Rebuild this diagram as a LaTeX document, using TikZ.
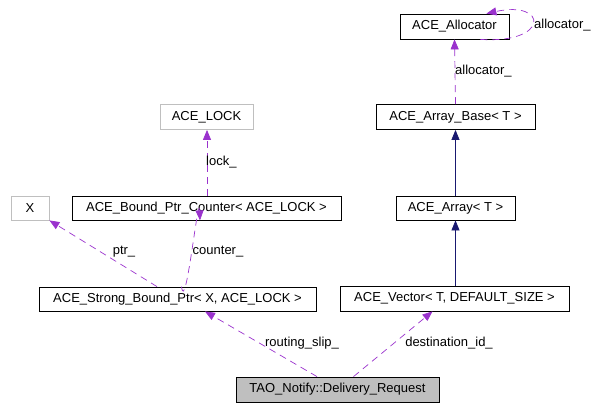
\documentclass[tikz,border=0pt]{standalone}
\usepackage{fontspec}
\setmainfont{Liberation Sans}
\usetikzlibrary{arrows.meta,calc}
\definecolor{dep}{HTML}{9A32CD}
\definecolor{inh}{HTML}{191970}
\definecolor{grayb}{HTML}{BFBFBF}
\begin{document}
\begin{tikzpicture}[x=1pt,y=-1pt,
  every node/.style={font=\fontsize{13}{15}\selectfont, inner sep=0pt},
  cls/.style={draw=black, line width=0.8pt, minimum width=#1, minimum height=25pt},
  ext/.style={draw=grayb, line width=0.8pt, minimum width=#1, minimum height=25pt},
  usel/.style={draw=dep, line width=0.7pt, dash pattern=on 7pt off 5pt, -{Triangle[length=10pt,width=8pt,fill=dep]}},
  inhl/.style={draw=inh, line width=0.8pt, -{Triangle[length=10pt,width=8pt,fill=inh]}},
  lbl/.style={font=\fontsize{13}{15}\selectfont}]
\useasboundingbox (0,0) rectangle (597,407);
\node[cls=109pt] (alloc) at (454.5,26.5) {ACE\_Allocator};
\node[cls=159pt] (base) at (455.5,117) {ACE\_Array\_Base< T >};
\node[ext=93pt] (lock) at (206.5,117) {ACE\_LOCK};
\node[ext=38pt, minimum height=24pt] (X) at (30,208) {X};
\node[cls=269pt, minimum height=24pt] (counter) at (206.5,208) {ACE\_Bound\_Ptr\_Counter< ACE\_LOCK >};
\node[cls=119pt, minimum height=24pt] (array) at (455.5,208) {ACE\_Array< T >};
\node[cls=277pt, minimum height=24pt] (strong) at (177.5,299) {ACE\_Strong\_Bound\_Ptr< X, ACE\_LOCK >};
\node[cls=229pt] (vector) at (454.5,298.5) {ACE\_Vector< T, DEFAULT\_SIZE >};
\node[cls=203pt, fill=grayb] (req) at (337.5,389.5) {TAO\_Notify::Delivery\_Request};

\draw[usel] (base.north) -- (alloc.south);
\node[lbl, anchor=west] (la) at (455,71) {allocator\_};
\draw[usel] ([xshift=-29pt]alloc.south east) .. controls (550,44) and (548,0) .. ([xshift=-23pt]alloc.north east);
\node[lbl, anchor=west] (lself) at (534,25) {allocator\_};

\draw[inhl] (array.north) -- (base.south);
\draw[inhl] (vector.north -| array.north) -- (array.south);

\draw[usel] ([xshift=0.5pt]counter.north) -- ([xshift=0.5pt]lock.south);
\node[lbl, anchor=west] (ll) at (206,162) {lock\_};

\draw[usel] ([xshift=-20.5pt]strong.north) -- (X.south east);
\node[lbl] (lp) at (124,252) {ptr\_};
\draw[usel] ([xshift=4pt]strong.north) .. controls ([xshift=8pt,yshift=-30pt]strong.north) and ([xshift=-8pt,yshift=30pt]counter.south) .. ([xshift=-6.5pt]counter.south);
\node[lbl] (lc) at (218,252) {counter\_};

\draw[usel] ([xshift=-20.5pt]req.north) -- ([xshift=27.5pt]strong.south);
\node[lbl] (lr) at (302,343) {routing\_slip\_};
\draw[usel] ([xshift=16pt]req.north) -- ([xshift=-22pt]vector.south);
\node[lbl] (ld) at (449,343) {destination\_id\_};
\end{tikzpicture}
\end{document}
